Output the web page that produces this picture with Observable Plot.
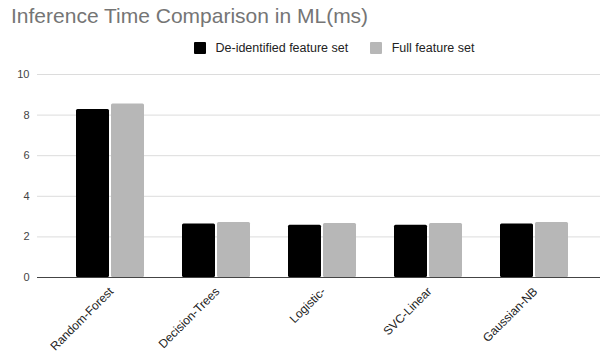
<!DOCTYPE html>
<html>
<head>
<meta charset="utf-8">
<script src="https://cdn.jsdelivr.net/npm/d3@7"></script>
<script src="https://cdn.jsdelivr.net/npm/@observablehq/plot@0.6"></script>
<style>
  html, body { margin: 0; padding: 0; background: #fff; }
  #wrap { position: relative; width: 600px; height: 358px; overflow: hidden; font-family: "Liberation Sans", Arial, sans-serif; }
  #title { position: absolute; left: 11px; top: 4px; font-size: 21px; color: #757575; white-space: nowrap; }
  #legend { position: absolute; left: 194px; top: 42px; height: 12px; font-size: 12.5px; color: #222; display: flex; align-items: center; white-space: nowrap; }
  #legend .sw { display: inline-block; width: 12px; height: 12px; border-radius: 1px; margin-right: 9.5px; }
  #legend .item { display: flex; align-items: center; margin-right: 22px; }
  #chart { position: absolute; left: 0; top: 62px; }
</style>
</head>
<body>
<div id="wrap">
  <div id="title">Inference Time Comparison in ML(ms)</div>
  <div id="legend"></div>
  <div id="chart"></div>
</div>
<script>
// Models compared and their inference times (ms)
const categories = ["Random-Forest", "Decision-Trees", "Logistic-", "SVC-Linear", "Gaussian-NB"];
const deIdentified = [8.28, 2.63, 2.58, 2.58, 2.63];
const fullSet = [8.55, 2.71, 2.66, 2.66, 2.71];
const seriesNames = ["De-identified feature set", "Full feature set"];
const seriesColors = ["#000000", "#b7b7b7"];
const yTicks = [0, 2, 4, 6, 8, 10];

const rowsA = categories.map((c, i) => ({model: c, value: deIdentified[i]}));
const rowsB = categories.map((c, i) => ({model: c, value: fullSet[i]}));

// Legend
const legend = document.getElementById("legend");
seriesNames.forEach((name, i) => {
  const item = document.createElement("span");
  item.className = "item";
  const sw = document.createElement("span");
  sw.className = "sw";
  sw.style.background = seriesColors[i];
  item.appendChild(sw);
  item.appendChild(document.createTextNode(name));
  legend.appendChild(item);
});

const plot = Plot.plot({
  width: 600,
  height: 296,
  marginLeft: 37,
  marginRight: 0,
  marginTop: 12,
  marginBottom: 81,
  style: {fontFamily: "'Liberation Sans', Arial, sans-serif", background: "transparent"},
  x: {domain: categories, range: [56, 588], paddingInner: 0.36, paddingOuter: 0.18, label: null},
  y: {domain: [0, 10], ticks: yTicks, label: null},
  marks: [
    Plot.ruleY(yTicks.filter(t => t > 0), {stroke: "#dcdcdc", strokeWidth: 1}),
    Plot.barY(rowsA, {x: "model", y: "value", fill: seriesColors[0], insetRight: 35, rx: 1.5}),
    Plot.barY(rowsB, {x: "model", y: "value", fill: seriesColors[1], insetLeft: 35, rx: 1.5}),
    Plot.ruleY([0], {stroke: "#444", strokeWidth: 1}),
    Plot.axisY({ticks: yTicks, tickSize: 0, tickPadding: 8, fontSize: 11, color: "#444", label: null}),
    Plot.axisX({tickSize: 0, tickPadding: 12, dx: 1, tickRotate: -45, fontSize: 12, color: "#222", label: null})
  ]
});
document.getElementById("chart").appendChild(plot);
</script>
</body>
</html>
